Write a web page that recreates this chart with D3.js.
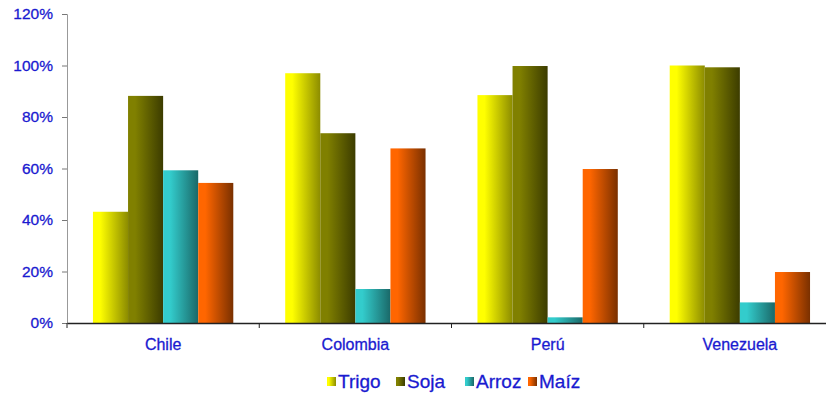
<!DOCTYPE html>
<html>
<head>
<meta charset="utf-8">
<script src="https://cdn.jsdelivr.net/npm/d3@7"></script>
<style>
    body { margin: 0; background: #fff; }
    text { font-family: "Liberation Sans", Arial, sans-serif; fill: #1a1ad0; stroke: #1a1ad0; stroke-width: 0.3px; }
</style>
</head>
<body>
<div id="chart"></div>
<script>
var countries = ["Chile", "Colombia", "Perú", "Venezuela"];
var crops = ["Trigo", "Soja", "Arroz", "Maíz"];
var trigo = [0.432, 0.97, 0.885, 1.0];
var soja = [0.882, 0.737, 0.998, 0.993];
var arroz = [0.593, 0.132, 0.022, 0.080];
var maiz = [0.544, 0.678, 0.598, 0.198];
var yTicks = [0, 0.2, 0.4, 0.6, 0.8, 1.0, 1.2];

var cropColors = {
    "Trigo": ["#ffff00", "#8c8c00"],
    "Soja": ["#808000", "#3c3c00"],
    "Arroz": ["#33cccc", "#1a6868"],
    "Maíz": ["#ff6600", "#7a3000"]
};

var values = {"Trigo": trigo, "Soja": soja, "Arroz": arroz, "Maíz": maiz};
var data = countries.map(function(c, i) {
    return {country: c, values: crops.map(function(k) { return {key: k, value: values[k][i]}; })};
});

var width = 826, height = 394;
var svg = d3.select("#chart").append("svg")
    .attr("width", width)
    .attr("height", height);

// gradients for the shaded bars
var defs = svg.append("defs");
crops.forEach(function(k, i) {
    var g = defs.append("linearGradient")
        .attr("id", "grad" + i)
        .attr("x1", "0%").attr("x2", "100%").attr("y1", "0%").attr("y2", "0%");
    g.append("stop").attr("offset", "0%").attr("stop-color", cropColors[k][0]);
    g.append("stop").attr("offset", "20%").attr("stop-color", cropColors[k][0]);
    g.append("stop").attr("offset", "100%").attr("stop-color", cropColors[k][1]);
});

var x0 = d3.scaleBand()
    .domain(countries)
    .range([67, 836]);

var x1 = d3.scaleBand()
    .domain(crops)
    .range([0, x0.bandwidth()])
    .paddingOuter(0.74);

var y = d3.scaleLinear()
    .domain([0, 1.2])
    .range([323, 14]);

// y axis
var yAxis = d3.axisLeft(y)
    .tickValues(yTicks)
    .tickSize(5)
    .tickPadding(9)
    .tickFormat(d3.format(".0%"));

var yG = svg.append("g")
    .attr("transform", "translate(67,0)")
    .call(yAxis);
yG.select(".domain").attr("stroke", "#999");
yG.selectAll(".tick line").attr("stroke", "#777");
yG.selectAll("text")
    .style("font-size", "15.5px")
    .attr("fill", null);

// bars
var groups = svg.selectAll(".country")
    .data(data)
    .enter().append("g")
    .attr("class", "country")
    .attr("transform", function(d) { return "translate(" + x0(d.country) + ",0)"; });

groups.selectAll("rect")
    .data(function(d) { return d.values; })
    .enter().append("rect")
    .attr("x", function(d) { return x1(d.key); })
    .attr("y", function(d) { return y(d.value); })
    .attr("width", x1.bandwidth())
    .attr("height", function(d) { return y(0) - y(d.value); })
    .attr("fill", function(d) { return "url(#grad" + crops.indexOf(d.key) + ")"; });

// x axis
var xAxis = d3.axisBottom(x0)
    .tickSize(0)
    .tickPadding(16);

var xG = svg.append("g")
    .attr("transform", "translate(0,323)")
    .call(xAxis);
xG.select(".domain").attr("stroke", "#222").attr("stroke-width", 1.3);
xG.selectAll("text")
    .style("font-size", "16px")
    .attr("fill", null);

// boundary ticks between countries
var bounds = countries.map(function(c) { return x0(c); });
xG.selectAll(".bound")
    .data(bounds)
    .enter().append("line")
    .attr("class", "bound")
    .attr("x1", function(d) { return d; })
    .attr("x2", function(d) { return d; })
    .attr("y1", 0)
    .attr("y2", 5)
    .attr("stroke", "#222");

// legend
var legendX = [327, 396, 465, 528];
var legend = svg.append("g").attr("class", "legend");
var item = legend.selectAll(".item")
    .data(crops)
    .enter().append("g")
    .attr("class", "item")
    .attr("transform", function(d, i) { return "translate(" + legendX[i] + ",377)"; });

item.append("rect")
    .attr("width", 9)
    .attr("height", 9)
    .attr("fill", function(d, i) { return "url(#grad" + i + ")"; });

item.append("text")
    .attr("x", 11)
    .attr("y", 10.5)
    .style("font-size", "19px")
    .text(function(d) { return d; });
</script>
</body>
</html>
